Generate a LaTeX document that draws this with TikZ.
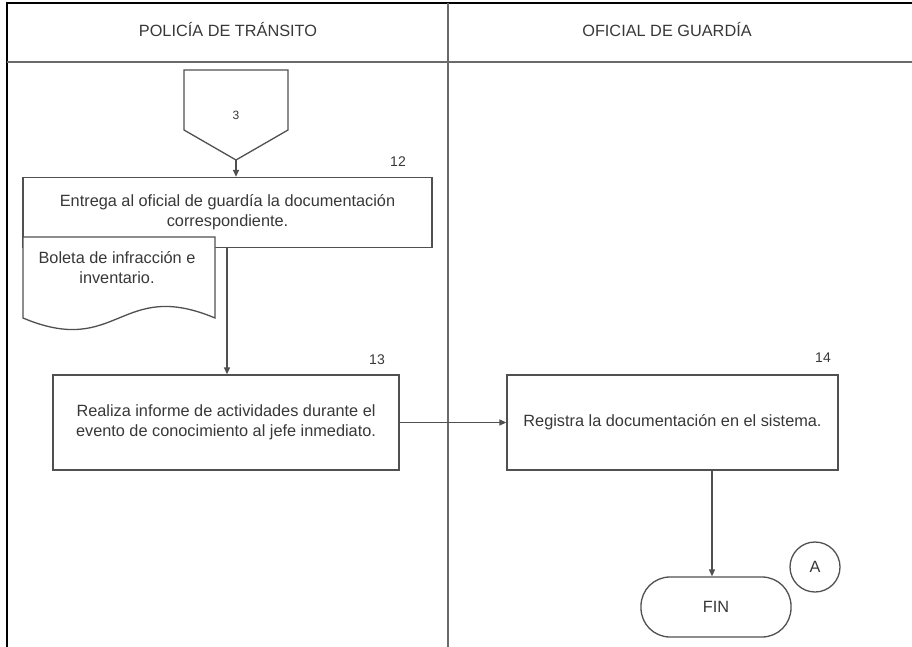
\documentclass[tikz,border=0pt]{standalone}
\usepackage{fontspec}
\setmainfont{Liberation Sans}
\usetikzlibrary{arrows.meta}
\definecolor{ln}{HTML}{505050}
\definecolor{tx}{HTML}{383838}
\begin{document}
\begin{tikzpicture}[x=1pt,y=-1pt,
  every node/.style={font=\fontsize{16.3}{20}\selectfont, text=tx},
  proc/.style={draw=ln, line width=1.3pt, fill=white, align=center, inner sep=0pt},
  arr/.style={draw=ln, line width=1.3pt, -{Triangle[length=7pt,width=6pt]}},
  lane/.style={draw=ln!85, line width=1.3pt},
  numlbl/.style={font=\fontsize{14}{16}\selectfont}]
\useasboundingbox (0,0) rectangle (912,647);
\fill[white] (0,0) rectangle (912,647);
% frame
\draw[black, line width=2pt] (7,647) -- (7,3) -- (912,3);
\draw[lane] (7,62) -- (912,62);
\draw[lane] (448,3) -- (448,647);
\node (h1) at (228,30) {POLICÍA DE TRÁNSITO};
\node (h2) at (667,30) {OFICIAL DE GUARDÍA};
% off-page connector 3
\draw[ln, line width=1.3pt, fill=white] (184,70) -- (288,70) -- (288,130) -- (236,160) -- (184,130) -- cycle;
\node[font=\fontsize{12}{14}\selectfont] (c3) at (236,115) {3};
\coordinate (c3tip) at (236,160);
% box 12
\node[proc, minimum width=409pt, minimum height=70pt] (b12) at (227.5,212.5)
  {Entrega al oficial de guardía la documentación\\correspondiente.};
\node[numlbl] (n12) at (398,162) {12};
\draw[arr] (c3tip) -- (c3tip |- b12.north);
% document
\draw[ln, line width=1.3pt, fill=white] (23,237) -- (215,237) -- (215,318)
  .. controls (120,278) and (118,358) .. (23,318) -- cycle;
\node[align=center] (doc) at (117,268) {Boleta de infracción e\\inventario.};
% box 13
\node[proc, minimum width=346pt, minimum height=95pt] (b13) at (226,422.5)
  {Realiza informe de actividades durante el\\evento de conocimiento al jefe inmediato.};
\node[numlbl] (n13) at (377,360) {13};
\draw[arr] (b12.south -| 227,0) -- (b13.north -| 227,0);
% box 14
\node[proc, minimum width=331pt, minimum height=95pt] (b14) at (672.5,422.5)
  {Registra la documentación en el sistema.};
\node[numlbl] (n14) at (823,358) {14};
\draw[arr] (b13.east) -- (b14.west);
% FIN
\node[proc, minimum width=150pt, minimum height=60pt, rounded corners=29pt] (fin) at (716,607) {FIN};
\draw[arr] (b14.south -| 712,0) -- (fin.north -| 712,0);
% connector A
\node[draw=ln, line width=1.3pt, circle, minimum size=50pt, inner sep=0pt] (ca) at (815,567) {A};
\end{tikzpicture}
\end{document}
